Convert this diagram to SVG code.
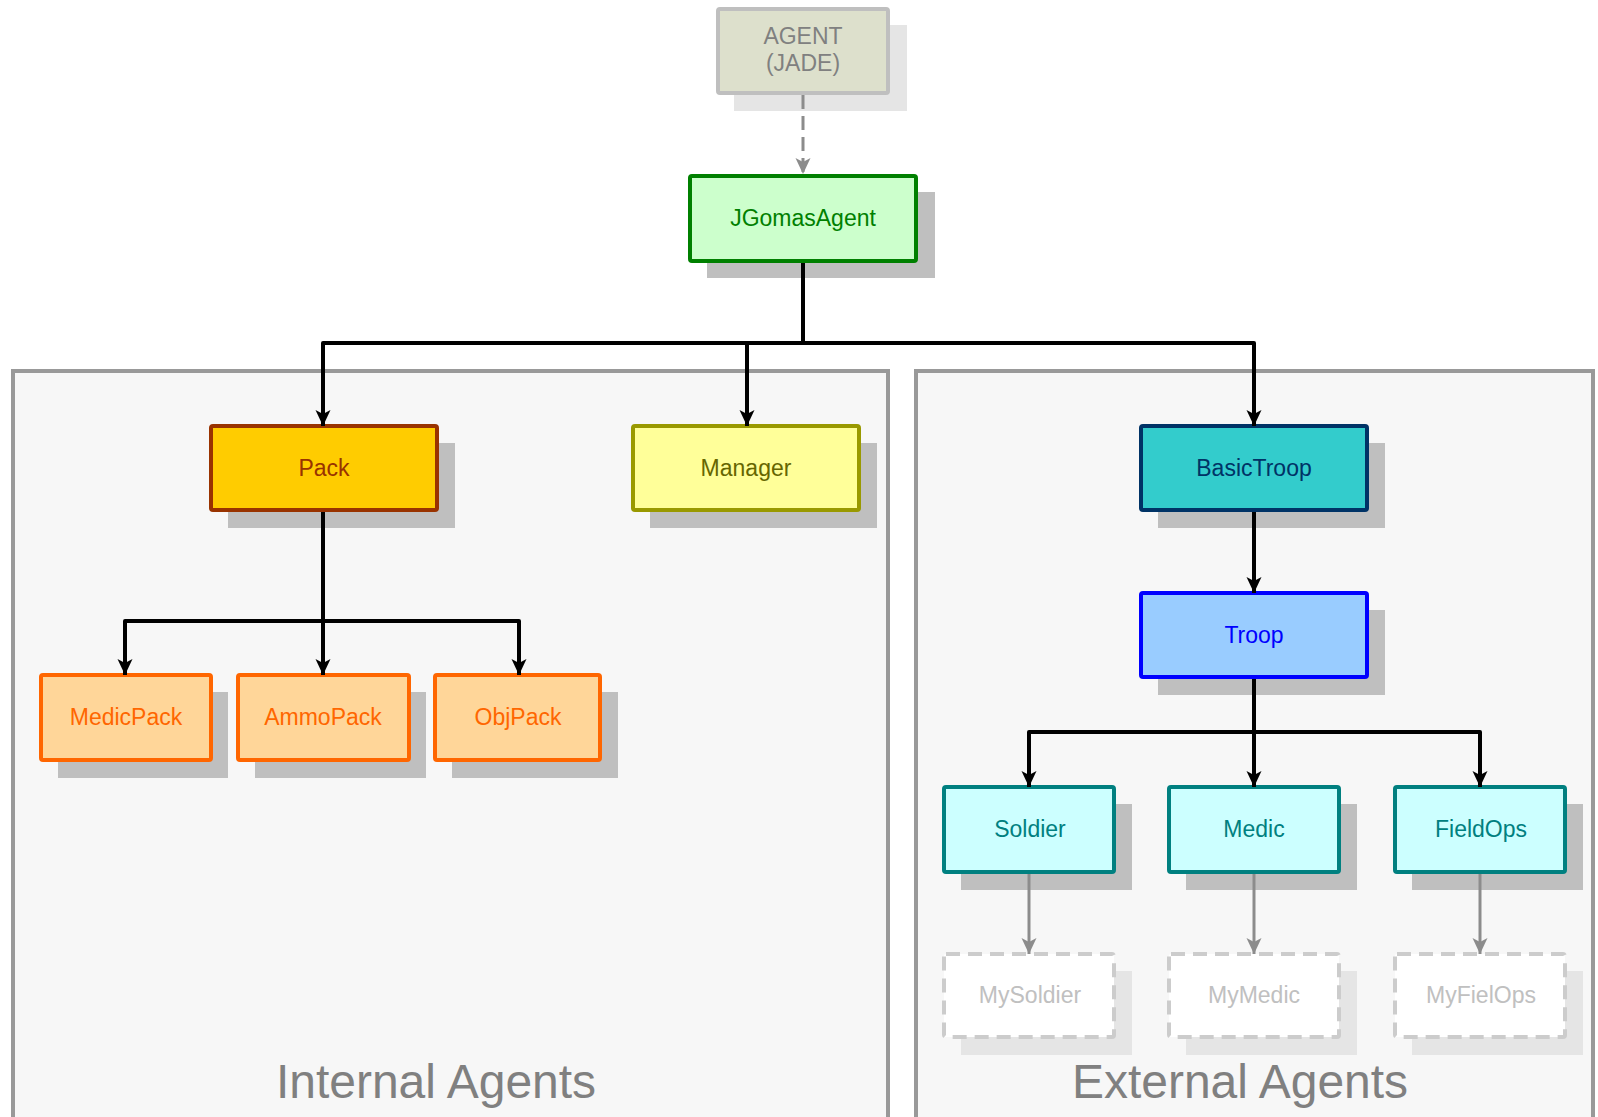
<svg xmlns="http://www.w3.org/2000/svg" width="1598" height="1117" viewBox="0 0 1598 1117">
<style>
text{font-family:"Liberation Sans",Arial,sans-serif;text-anchor:middle}
.lbl{font-size:23px}
.big{font-size:48px;fill:#808080}
.sh{fill:#bfbfbf}
.shl{fill:#e5e5e5}
.box{stroke-width:4}
.cont{fill:#f7f7f7;stroke:#999;stroke-width:4}
.c{fill:none;stroke:#000;stroke-width:4;stroke-linejoin:round}
.g{fill:none;stroke:#8c8c8c;stroke-width:3}
</style>
<defs>
<marker id="ab" markerUnits="userSpaceOnUse" markerWidth="18" markerHeight="18" viewBox="0 0 18 18" refX="16" refY="9" orient="auto">
<path d="M0,1.5 L16,9 L0,16.5 L4,9 z" fill="#000"/>
</marker>
<marker id="ag" markerUnits="userSpaceOnUse" markerWidth="18" markerHeight="18" viewBox="0 0 18 18" refX="16" refY="9" orient="auto">
<path d="M0,1.5 L16,9 L0,16.5 L4,9 z" fill="#8c8c8c"/>
</marker>
</defs>
<rect width="1598" height="1117" fill="#fff"/>
<g id="internal">
<rect class="cont" x="13" y="371" width="875" height="760"/>
<text class="big" x="436" y="1098">Internal Agents</text>
</g>
<g id="external">
<rect class="cont" x="916" y="371" width="677" height="760"/>
<text class="big" x="1240" y="1098">External Agents</text>
</g>
<g id="agent">
<rect class="shl" x="734" y="25" width="173" height="86"/>
<rect class="box" x="718" y="9" width="170" height="84" rx="2" fill="#dde0cc" stroke="#bfbfbf"/>
<text class="lbl" x="803" y="44" fill="#808080">AGENT</text>
<text class="lbl" x="803" y="71" fill="#808080">(JADE)</text>
</g>
<g id="jgomasagent">
<rect class="sh" x="707" y="192" width="228" height="86"/>
<rect class="box" x="690" y="176" width="226" height="85" rx="2" fill="#ccffcc" stroke="#008000"/>
<text class="lbl" x="803" y="226" fill="#008000">JGomasAgent</text>
</g>
<g id="pack">
<rect class="sh" x="228" y="443" width="227" height="85"/>
<rect class="box" x="211" y="426" width="226" height="84" rx="2" fill="#ffcc00" stroke="#993300"/>
<text class="lbl" x="324" y="476" fill="#993300">Pack</text>
</g>
<g id="manager">
<rect class="sh" x="650" y="443" width="227" height="85"/>
<rect class="box" x="633" y="426" width="226" height="84" rx="2" fill="#ffff99" stroke="#999900"/>
<text class="lbl" x="746" y="476" fill="#666600">Manager</text>
</g>
<g id="basictroop">
<rect class="sh" x="1158" y="443" width="227" height="85"/>
<rect class="box" x="1141" y="426" width="226" height="84" rx="2" fill="#33cccc" stroke="#003366"/>
<text class="lbl" x="1254" y="476" fill="#003366">BasicTroop</text>
</g>
<g id="troop">
<rect class="sh" x="1158" y="610" width="227" height="85"/>
<rect class="box" x="1141" y="593" width="226" height="84" rx="2" fill="#99ccff" stroke="#0000ff"/>
<text class="lbl" x="1254" y="643" fill="#0000ff">Troop</text>
</g>
<g id="medicpack">
<rect class="sh" x="58" y="692" width="170" height="86"/>
<rect class="box" x="41" y="675" width="170" height="85" rx="2" fill="#ffd699" stroke="#ff6600"/>
<text class="lbl" x="126" y="725" fill="#ff6600">MedicPack</text>
</g>
<g id="ammopack">
<rect class="sh" x="255" y="692" width="171" height="86"/>
<rect class="box" x="238" y="675" width="171" height="85" rx="2" fill="#ffd699" stroke="#ff6600"/>
<text class="lbl" x="323" y="725" fill="#ff6600">AmmoPack</text>
</g>
<g id="objpack">
<rect class="sh" x="452" y="692" width="166" height="86"/>
<rect class="box" x="435" y="675" width="165" height="85" rx="2" fill="#ffd699" stroke="#ff6600"/>
<text class="lbl" x="518" y="725" fill="#ff6600">ObjPack</text>
</g>
<g id="soldier">
<rect class="sh" x="961" y="804" width="171" height="86"/>
<rect class="box" x="944" y="787" width="170" height="85" rx="2" fill="#ccffff" stroke="#008080"/>
<text class="lbl" x="1030" y="837" fill="#008080">Soldier</text>
</g>
<g id="medic">
<rect class="sh" x="1186" y="804" width="171" height="86"/>
<rect class="box" x="1169" y="787" width="170" height="85" rx="2" fill="#ccffff" stroke="#008080"/>
<text class="lbl" x="1254" y="837" fill="#008080">Medic</text>
</g>
<g id="fieldops">
<rect class="sh" x="1412" y="804" width="171" height="86"/>
<rect class="box" x="1395" y="787" width="170" height="85" rx="2" fill="#ccffff" stroke="#008080"/>
<text class="lbl" x="1481" y="837" fill="#008080">FieldOps</text>
</g>
<g id="mysoldier">
<rect class="shl" x="961" y="971" width="171" height="84"/>
<rect class="box" x="944" y="954" width="170" height="83" rx="2" fill="#fff" stroke="#cccccc" stroke-dasharray="14,8"/>
<text class="lbl" x="1030" y="1003" fill="#c0c0c0">MySoldier</text>
</g>
<g id="mymedic">
<rect class="shl" x="1186" y="971" width="171" height="84"/>
<rect class="box" x="1169" y="954" width="170" height="83" rx="2" fill="#fff" stroke="#cccccc" stroke-dasharray="14,8"/>
<text class="lbl" x="1254" y="1003" fill="#c0c0c0">MyMedic</text>
</g>
<g id="myfielops">
<rect class="shl" x="1412" y="971" width="171" height="84"/>
<rect class="box" x="1395" y="954" width="170" height="83" rx="2" fill="#fff" stroke="#cccccc" stroke-dasharray="14,8"/>
<text class="lbl" x="1481" y="1003" fill="#c0c0c0">MyFielOps</text>
</g>
<g id="connectors">
<line class="g" x1="803" y1="95" x2="803" y2="174" stroke-dasharray="14,7" marker-end="url(#ag)"/>
<path class="c" d="M803,263 V343"/>
<path class="c" d="M803,343 H323 V426" marker-end="url(#ab)"/>
<path class="c" d="M747,343 V426" marker-end="url(#ab)"/>
<path class="c" d="M803,343 H1254 V426" marker-end="url(#ab)"/>
<path class="c" d="M323,512 V675" marker-end="url(#ab)"/>
<path class="c" d="M323,621 H125 V675" marker-end="url(#ab)"/>
<path class="c" d="M323,621 H519 V675" marker-end="url(#ab)"/>
<path class="c" d="M1254,512 V593" marker-end="url(#ab)"/>
<path class="c" d="M1254,679 V787" marker-end="url(#ab)"/>
<path class="c" d="M1254,732 H1029 V787" marker-end="url(#ab)"/>
<path class="c" d="M1254,732 H1480 V787" marker-end="url(#ab)"/>
<line class="g" x1="1029" y1="874" x2="1029" y2="954" marker-end="url(#ag)"/>
<line class="g" x1="1254" y1="874" x2="1254" y2="954" marker-end="url(#ag)"/>
<line class="g" x1="1480" y1="874" x2="1480" y2="954" marker-end="url(#ag)"/>
</g>
</svg>
